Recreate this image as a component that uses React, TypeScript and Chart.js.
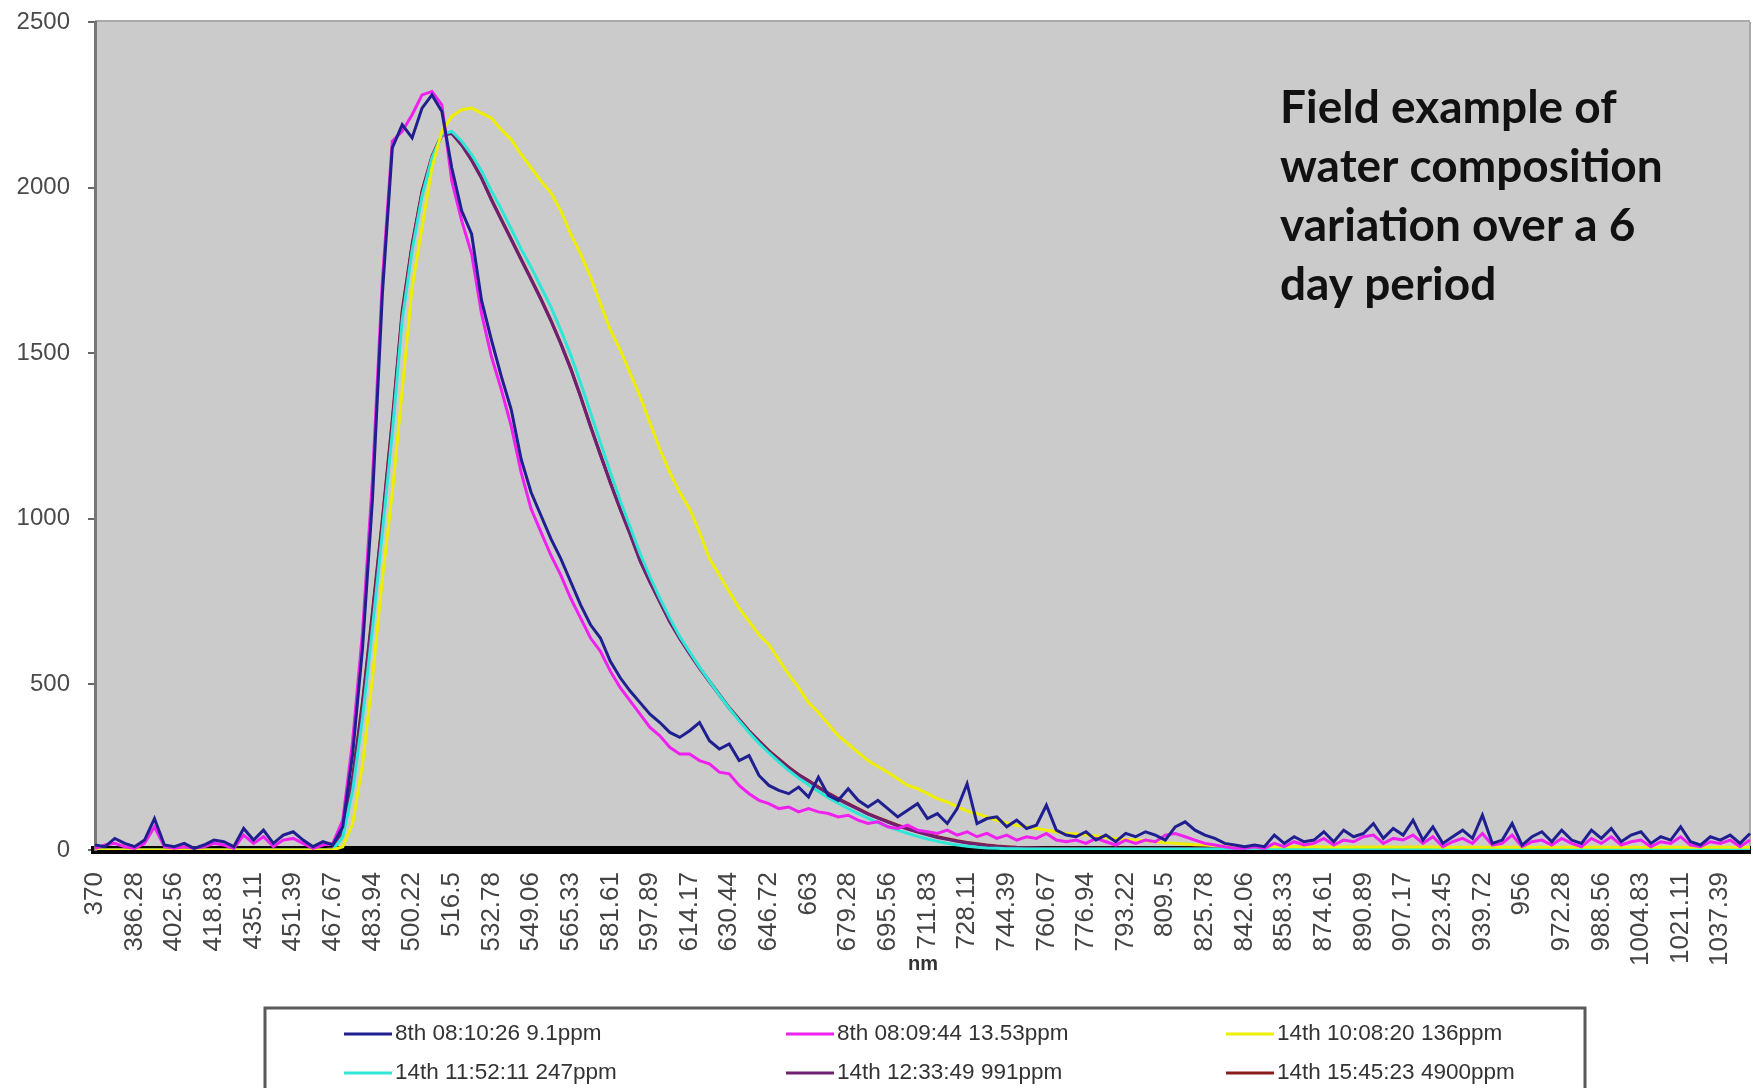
import React, { useEffect, useRef } from "react";
import { Chart, registerables } from "chart.js";

Chart.register(...registerables);

const wavelengths = [
  370, 374.07, 378.14, 382.21, 386.28, 390.35, 394.42, 398.49, 402.56, 406.62, 410.69, 414.76,
  418.83, 422.9, 426.97, 431.04, 435.11, 439.18, 443.25, 447.32, 451.39, 455.46, 459.53, 463.6,
  467.67, 471.74, 475.81, 479.88, 483.94, 488.01, 492.08, 496.15, 500.22, 504.29, 508.36, 512.43,
  516.5, 520.57, 524.64, 528.71, 532.78, 536.85, 540.92, 544.99, 549.06, 553.12, 557.19, 561.26,
  565.33, 569.4, 573.47, 577.54, 581.61, 585.68, 589.75, 593.82, 597.89, 601.96, 606.03, 610.1,
  614.17, 618.24, 622.31, 626.38, 630.44, 634.51, 638.58, 642.65, 646.72, 650.79, 654.86, 658.93,
  663, 667.07, 671.14, 675.21, 679.28, 683.35, 687.42, 691.49, 695.56, 699.62, 703.69, 707.76,
  711.83, 715.9, 719.97, 724.04, 728.11, 732.18, 736.25, 740.32, 744.39, 748.46, 752.53, 756.6,
  760.67, 764.74, 768.81, 772.88, 776.94, 781.01, 785.08, 789.15, 793.22, 797.29, 801.36, 805.43,
  809.5, 813.57, 817.64, 821.71, 825.78, 829.85, 833.92, 837.99, 842.06, 846.12, 850.19, 854.26,
  858.33, 862.4, 866.47, 870.54, 874.61, 878.68, 882.75, 886.82, 890.89, 894.96, 899.03, 903.1,
  907.17, 911.24, 915.31, 919.38, 923.45, 927.51, 931.58, 935.65, 939.72, 943.79, 947.86, 951.93,
  956, 960.07, 964.14, 968.21, 972.28, 976.35, 980.42, 984.49, 988.56, 992.63, 996.7, 1000.76,
  1004.83, 1008.9, 1012.97, 1017.04, 1021.11, 1025.18, 1029.25, 1033.32, 1037.39, 1041.46, 1045.53, 1049.6,
];

const tickLabels = [
  "370", "386.28", "402.56", "418.83", "435.11", "451.39", "467.67", "483.94", "500.22", "516.5",
  "532.78", "549.06", "565.33", "581.61", "597.89", "614.17", "630.44", "646.72", "663", "679.28",
  "695.56", "711.83", "728.11", "744.39", "760.67", "776.94", "793.22", "809.5", "825.78", "842.06",
  "858.33", "874.61", "890.89", "907.17", "923.45", "939.72", "956", "972.28", "988.56", "1004.83",
  "1021.11", "1037.39",
];

const seriesNames = [
  "8th 08:10:26 9.1ppm",
  "8th 08:09:44 13.53ppm",
  "14th 10:08:20 136ppm",
  "14th 11:52:11 247ppm",
  "14th 12:33:49 991ppm",
  "14th 15:45:23 4900ppm",
];

const seriesColors = ["#1f1f8f", "#f020f0", "#eeee00", "#2ee6d6", "#702070", "#8b1c1c"];

const titleLines = ["Field example of", "water composition", "variation over a 6", "day period"];

const s9_1ppm = [
  15, 10, 35, 20, 10, 30, 95, 15, 10, 20, 5, 15,
  30, 25, 10, 65, 30, 60, 20, 45, 55, 30, 10, 25,
  15, 70, 290, 610, 1060, 1680, 2120, 2190, 2150, 2240, 2280, 2230,
  2060, 1930, 1860, 1660, 1540, 1430, 1330, 1180, 1080, 1010, 940, 880,
  810, 740, 680, 640, 570, 520, 480, 445, 410, 385, 355, 340,
  360, 385, 330, 305, 320, 270, 285, 225, 195, 180, 170, 190,
  160, 220, 165, 150, 185, 150, 130, 150, 125, 100, 120, 140,
  95, 110, 80, 125, 200, 80, 95, 100, 70, 90, 65, 75,
  135, 60, 45, 40, 55, 30, 45, 25, 50, 40, 55, 45,
  30, 70, 85, 60, 45, 35, 20, 15, 10, 15, 10, 45,
  20, 40, 25, 30, 55, 25, 60, 40, 50, 80, 35, 65,
  45, 90, 30, 70, 20, 40, 60, 35, 105, 20, 30, 80,
  15, 40, 55, 25, 60, 30, 20, 60, 35, 65, 25, 45,
  55, 20, 40, 30, 70, 25, 15, 40, 30, 45, 20, 50,
];

const s13_53ppm = [
  5, 15, 20, 10, 5, 20, 70, 10, 5, 10, 5, 10,
  20, 15, 5, 45, 20, 40, 10, 30, 35, 20, 5, 15,
  20, 90, 330, 660, 1120, 1720, 2140, 2170, 2220, 2280, 2290, 2250,
  2020, 1900, 1800, 1620, 1490, 1390, 1280, 1140, 1030, 960, 890, 830,
  760, 700, 640, 600, 540, 490, 450, 410, 370, 345, 310, 290,
  290, 270, 260, 235, 230, 195, 170, 150, 140, 125, 130, 115,
  125, 115, 110, 100, 105, 90, 80, 85, 70, 65, 75, 60,
  55, 50, 60, 45, 55, 40, 50, 35, 45, 30, 40, 35,
  50, 30, 25, 30, 20, 35, 25, 15, 30, 20, 30, 25,
  45, 50, 40, 30, 20, 15, 10, 5, 5, 10, 5, 20,
  10, 25, 15, 20, 35, 15, 30, 25, 40, 45, 20, 35,
  30, 45, 20, 40, 10, 25, 35, 20, 50, 15, 20, 45,
  10, 25, 30, 15, 35, 20, 10, 35, 20, 40, 15, 25,
  30, 10, 25, 20, 40, 15, 10, 25, 20, 30, 10, 30,
];

const s136ppm = [
  0, 0, 0, 0, 0, 0, 0, 0, 0, 0, 0, 0,
  0, 0, 0, 0, 0, 0, 0, 0, 0, 0, 0, 0,
  0, 10, 80, 260, 520, 820, 1080, 1390, 1700, 1880, 2060, 2170,
  2215, 2235, 2240, 2225, 2210, 2175, 2145, 2100, 2060, 2020, 1985, 1930,
  1860, 1800, 1730, 1650, 1570, 1510, 1440, 1370, 1290, 1210, 1140, 1080,
  1030, 960, 880, 830, 780, 730, 690, 650, 620, 575, 530, 490,
  445, 415, 380, 345, 320, 295, 270, 252, 235, 215, 195, 185,
  170, 155, 145, 130, 118, 110, 100, 90, 82, 75, 70, 65,
  60, 55, 50, 48, 45, 42, 38, 35, 32, 30, 28, 25,
  22, 20, 18, 16, 15, 13, 12, 11, 10, 10, 10, 10,
  10, 10, 10, 10, 9, 9, 9, 9, 9, 9, 9, 9,
  9, 9, 9, 9, 8, 8, 8, 8, 8, 8, 8, 8,
  8, 8, 8, 8, 8, 8, 8, 8, 8, 8, 8, 8,
  8, 8, 8, 8, 8, 8, 8, 8, 8, 8, 8, 8,
];

const s247ppm = [
  0, 0, 0, 0, 0, 0, 0, 0, 0, 0, 0, 0,
  0, 0, 0, 0, 0, 0, 0, 0, 0, 0, 0, 0,
  0, 40, 180, 400, 670, 960, 1260, 1600, 1810, 1975, 2090, 2160,
  2170, 2140, 2100, 2050, 1990, 1935, 1875, 1815, 1760, 1700, 1640, 1570,
  1495, 1410, 1320, 1230, 1140, 1055, 975, 895, 825, 760, 700, 645,
  598, 552, 510, 468, 428, 390, 355, 322, 293, 266, 240, 217,
  197, 177, 158, 141, 125, 110, 96, 83, 71, 60, 50, 41,
  33, 26, 20, 15, 11, 8, 6, 5, 4, 4, 3, 3,
  3, 3, 3, 3, 3, 3, 3, 3, 3, 3, 3, 3,
  3, 3, 3, 3, 3, 3, 3, 3, 3, 3, 3, 3,
  3, 3, 3, 3, 3, 3, 3, 3, 3, 3, 3, 3,
  3, 3, 3, 3, 3, 3, 3, 3, 3, 3, 3, 3,
  3, 3, 3, 3, 3, 3, 3, 3, 3, 3, 3, 3,
  3, 3, 3, 3, 3, 3, 3, 3, 3, 3, 3, 3,
];

const s991ppm = [
  0, 0, 0, 0, 0, 0, 0, 0, 0, 0, 0, 0,
  0, 0, 0, 0, 0, 0, 0, 0, 0, 0, 0, 0,
  5, 55, 210, 440, 710, 990, 1290, 1620, 1825, 1985, 2090, 2158,
  2163, 2128, 2082, 2028, 1962, 1902, 1842, 1782, 1722, 1662, 1598, 1528,
  1452, 1368, 1278, 1192, 1108, 1028, 952, 872, 808, 748, 688, 638,
  592, 548, 508, 468, 428, 393, 358, 328, 298, 273, 248, 226,
  208, 188, 170, 153, 138, 123, 108, 96, 84, 73, 63, 54,
  46, 38, 32, 26, 21, 17, 13, 10, 8, 7, 6, 5,
  4, 4, 4, 4, 4, 4, 4, 4, 4, 4, 4, 4,
  4, 4, 4, 4, 4, 4, 4, 4, 4, 4, 4, 4,
  4, 4, 4, 4, 4, 4, 4, 4, 4, 4, 4, 4,
  4, 4, 4, 4, 4, 4, 4, 4, 4, 4, 4, 4,
  4, 4, 4, 4, 4, 4, 4, 4, 4, 4, 4, 4,
  4, 4, 4, 4, 4, 4, 4, 4, 4, 4, 4, 4,
];

const s4900ppm = [
  0, 0, 0, 0, 0, 0, 0, 0, 0, 0, 0, 0,
  0, 0, 0, 0, 0, 0, 0, 0, 0, 0, 0, 0,
  5, 60, 220, 450, 720, 1000, 1300, 1630, 1830, 1990, 2095, 2160,
  2165, 2130, 2085, 2030, 1965, 1905, 1845, 1785, 1725, 1665, 1600, 1530,
  1455, 1370, 1280, 1195, 1110, 1030, 955, 875, 810, 750, 690, 640,
  595, 550, 510, 470, 430, 395, 360, 330, 300, 275, 250, 228,
  210, 190, 172, 155, 140, 125, 110, 98, 86, 75, 65, 56,
  48, 40, 34, 28, 23, 19, 15, 12, 10, 8, 7, 6,
  5, 5, 5, 5, 5, 5, 5, 5, 5, 5, 5, 5,
  5, 5, 5, 5, 5, 5, 5, 5, 5, 5, 5, 5,
  5, 5, 5, 5, 5, 5, 5, 5, 5, 5, 5, 5,
  5, 5, 5, 5, 5, 5, 5, 5, 5, 5, 5, 5,
  5, 5, 5, 5, 5, 5, 5, 5, 5, 5, 5, 5,
  5, 5, 5, 5, 5, 5, 5, 5, 5, 5, 5, 5,
];

const seriesValues = [s9_1ppm, s13_53ppm, s136ppm, s247ppm, s991ppm, s4900ppm];

const FONT = '"Liberation Sans", Arial, sans-serif';

const decor = {
  id: "decor",
  beforeDraw(chart: any) {
    const { ctx, chartArea: a } = chart;
    ctx.save();
    ctx.fillStyle = "#cbcbcb";
    ctx.fillRect(a.left, a.top, a.right - a.left, a.bottom - a.top);
    ctx.strokeStyle = "#a9a9a9";
    ctx.lineWidth = 2;
    ctx.beginPath();
    ctx.moveTo(a.left, a.top - 1);
    ctx.lineTo(a.right, a.top - 1);
    ctx.moveTo(a.right, a.top);
    ctx.lineTo(a.right, a.bottom);
    ctx.stroke();
    ctx.restore();
  },
  afterDraw(chart: any) {
    const { ctx } = chart;
    ctx.save();
    // annotation text
    ctx.fillStyle = "#111";
    ctx.font = 'bold 46px Lato, "Open Sans", sans-serif';
    ctx.textBaseline = "middle";
    ctx.textAlign = "left";
    titleLines.forEach((t, i) => ctx.fillText(t, 1280, 108 + i * 59));
    // axis title
    ctx.fillStyle = "#333";
    ctx.font = `bold 20px ${FONT}`;
    ctx.textAlign = "center";
    ctx.fillText("nm", 923, 964);
    // legend
    ctx.strokeStyle = "#5a5a5a";
    ctx.lineWidth = 3;
    ctx.strokeRect(265, 1008, 1320, 110);
    const cols = [344, 786, 1226];
    const rows = [1034, 1073];
    ctx.font = `22.5px ${FONT}`;
    ctx.textAlign = "left";
    seriesNames.forEach((name, i) => {
      const x = cols[i % 3];
      const y = rows[Math.floor(i / 3)];
      ctx.strokeStyle = seriesColors[i];
      ctx.lineWidth = 3;
      ctx.beginPath();
      ctx.moveTo(x, y);
      ctx.lineTo(x + 48, y);
      ctx.stroke();
      ctx.fillStyle = "#333";
      ctx.fillText(name, x + 51, y);
    });
    ctx.restore();
  },
};

export default function App() {
  const ref = useRef<HTMLCanvasElement | null>(null);

  useEffect(() => {
    if (!ref.current) return;
    const chart = new Chart(ref.current, {
      type: "line",
      data: {
        labels: wavelengths.map((w) => String(w)),
        datasets: seriesNames.map((name, i) => ({
          label: name,
          data: seriesValues[i],
          borderColor: seriesColors[i],
          backgroundColor: seriesColors[i],
          borderWidth: 3,
          pointRadius: 0,
          tension: 0,
          fill: false,
        })),
      },
      options: {
        animation: false,
        responsive: false,
        maintainAspectRatio: false,
        layout: { padding: { left: 0, right: 3, top: 22, bottom: 0 } },
        plugins: {
          legend: { display: false },
          tooltip: { enabled: false },
        },
        scales: {
          x: {
            type: "category",
            offset: false,
            grid: { display: false, drawTicks: false },
            border: { display: true, color: "#000", width: 8 },
            ticks: {
              autoSkip: false,
              maxRotation: 90,
              minRotation: 90,
              padding: 22,
              color: "#444",
              font: { family: FONT, size: 26 },
              callback: (_v: any, i: number) => (i % 4 === 0 ? tickLabels[i / 4] ?? "" : ""),
            },
            afterFit: (s: any) => {
              s.height = 238;
              s.paddingLeft = 0;
              s.paddingRight = 0;
            },
          },
          y: {
            min: 0,
            max: 2500,
            ticks: {
              stepSize: 500,
              padding: 18,
              color: "#4a4a4a",
              font: { family: FONT, size: 24 },
              callback: (v: any) => String(v),
            },
            grid: { drawOnChartArea: false, drawTicks: true, tickLength: 7, color: "#666", lineWidth: 2 },
            border: { display: true, color: "#777", width: 3 },
            afterFit: (s: any) => {
              s.width = 95;
              s.paddingTop = 0;
              s.paddingBottom = 0;
            },
          },
        },
      },
      plugins: [decor],
    });
    return () => chart.destroy();
  }, []);

  return (
    <div style={{ position: "fixed", left: 0, top: 0, width: 1753, height: 1088, overflow: "hidden", background: "#fff" }}>
      <canvas ref={ref} width={1753} height={1088} style={{ display: "block", width: 1753, height: 1088 }} />
    </div>
  );
}
